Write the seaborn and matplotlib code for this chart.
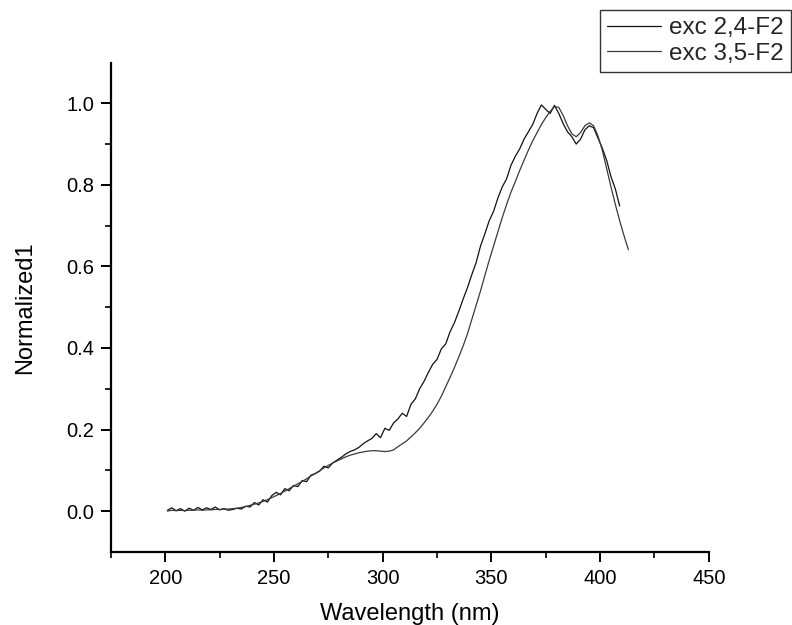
import matplotlib
matplotlib.use("Agg")
import matplotlib.pyplot as plt
from matplotlib.ticker import FixedLocator
import pandas as pd
import seaborn as sns

# Excitation spectrum of 2,4-F2 (nm, normalized intensity)
wl_24 = list(range(201, 410, 2))
int_24 = [
    0.002, 0.008, 0.001, 0.006, 0.000, 0.007, 0.002, 0.009, 0.003, 0.008,
    0.004, 0.010, 0.003, 0.006, 0.002, 0.004, 0.007, 0.005, 0.012, 0.010,
    0.021, 0.015, 0.028, 0.022, 0.038, 0.046, 0.040, 0.055, 0.050, 0.063,
    0.060, 0.075, 0.072, 0.088, 0.092, 0.098, 0.110, 0.106, 0.118, 0.125,
    0.132, 0.140, 0.146, 0.150, 0.156, 0.165, 0.172, 0.178, 0.190, 0.180,
    0.203, 0.198, 0.216, 0.226, 0.240, 0.232, 0.262, 0.275, 0.300, 0.318,
    0.340, 0.360, 0.372, 0.398, 0.410, 0.440, 0.462, 0.490, 0.520, 0.548,
    0.580, 0.610, 0.650, 0.680, 0.712, 0.735, 0.768, 0.795, 0.815, 0.848,
    0.870, 0.888, 0.912, 0.930, 0.948, 0.975, 0.996, 0.985, 0.975, 0.995,
    0.975, 0.950, 0.930, 0.918, 0.900, 0.912, 0.935, 0.945, 0.940, 0.915,
    0.890, 0.860, 0.820, 0.790, 0.748,
]

# Excitation spectrum of 3,5-F2
wl_35 = list(range(201, 414, 2))
int_35 = [
    0.000, 0.002, 0.001, 0.002, 0.001, 0.002, 0.002, 0.003, 0.002, 0.003,
    0.003, 0.004, 0.004, 0.005, 0.005, 0.006, 0.007, 0.009, 0.011, 0.014,
    0.017, 0.020, 0.024, 0.028, 0.033, 0.038, 0.043, 0.049, 0.055, 0.061,
    0.067, 0.073, 0.079, 0.086, 0.092, 0.099, 0.106, 0.112, 0.118, 0.123,
    0.128, 0.133, 0.137, 0.140, 0.143, 0.145, 0.147, 0.148, 0.148, 0.147,
    0.146, 0.147, 0.150, 0.158, 0.165, 0.172, 0.182, 0.192, 0.203, 0.216,
    0.230, 0.245, 0.262, 0.282, 0.305, 0.328, 0.352, 0.378, 0.405, 0.435,
    0.470, 0.505, 0.540, 0.578, 0.615, 0.650, 0.685, 0.720, 0.752, 0.782,
    0.808, 0.835, 0.860, 0.885, 0.908, 0.928, 0.948, 0.965, 0.980, 0.992,
    0.990, 0.970, 0.945, 0.925, 0.918, 0.928, 0.945, 0.952, 0.945, 0.920,
    0.885, 0.840, 0.795, 0.752, 0.712, 0.675, 0.641,
]

series_names = ["exc 2,4-F2", "exc 3,5-F2"]
line_colors = ["#111111", "#3a3a3a"]
x_major = [200, 250, 300, 350, 400, 450]
y_major = [0.0, 0.2, 0.4, 0.6, 0.8, 1.0]

sns.set_theme(style="ticks")
plt.rcParams["font.family"] = ["Liberation Sans", "DejaVu Sans"]

df = pd.concat([
    pd.DataFrame({"Wavelength": wl_24, "Intensity": int_24, "Series": series_names[0]}),
    pd.DataFrame({"Wavelength": wl_35, "Intensity": int_35, "Series": series_names[1]}),
])

fig = plt.figure(figsize=(7.92, 6.25), dpi=100)
ax = fig.add_axes([0.140, 0.117, 0.755, 0.783])

sns.lineplot(data=df, x="Wavelength", y="Intensity", hue="Series",
             palette=dict(zip(series_names, line_colors)),
             linewidth=0.9, ax=ax, legend=False, estimator=None, sort=False)

ax.set_xlim(175, 450)
ax.set_ylim(-0.1, 1.1)
ax.xaxis.set_major_locator(FixedLocator(x_major))
ax.xaxis.set_minor_locator(FixedLocator([175, 225, 275, 325, 375, 425]))
ax.yaxis.set_major_locator(FixedLocator(y_major))
ax.yaxis.set_minor_locator(FixedLocator([0.1, 0.3, 0.5, 0.7, 0.9]))
ax.set_xticklabels([str(v) for v in x_major])
ax.set_yticklabels([f"{v:.1f}" for v in y_major])

for side in ["top", "right"]:
    ax.spines[side].set_visible(False)
for side in ["left", "bottom"]:
    ax.spines[side].set_linewidth(1.6)
    ax.spines[side].set_color("black")

ax.tick_params(which="major", direction="out", length=7, width=1.4,
               labelsize=14.5, colors="black", pad=5)
ax.tick_params(which="minor", direction="out", length=4, width=1.2, colors="black")

ax.set_xlabel("Wavelength (nm)", fontsize=17, color="black", labelpad=11)
ax.set_ylabel("Normalized1", fontsize=17, color="black", labelpad=22)

handles = [plt.Line2D([], [], color=c, lw=0.9) for c in line_colors]
leg = fig.legend(handles, series_names, loc="upper right",
                 bbox_to_anchor=(0.999, 0.984), fontsize=17.5,
                 frameon=True, fancybox=False, handlelength=2.2,
                 handletextpad=0.35, borderpad=0.3, labelspacing=0.15,
                 borderaxespad=0)
leg.get_frame().set_edgecolor("black")
leg.get_frame().set_linewidth(1.0)

fig.savefig("out.png", dpi=100, facecolor="white")
